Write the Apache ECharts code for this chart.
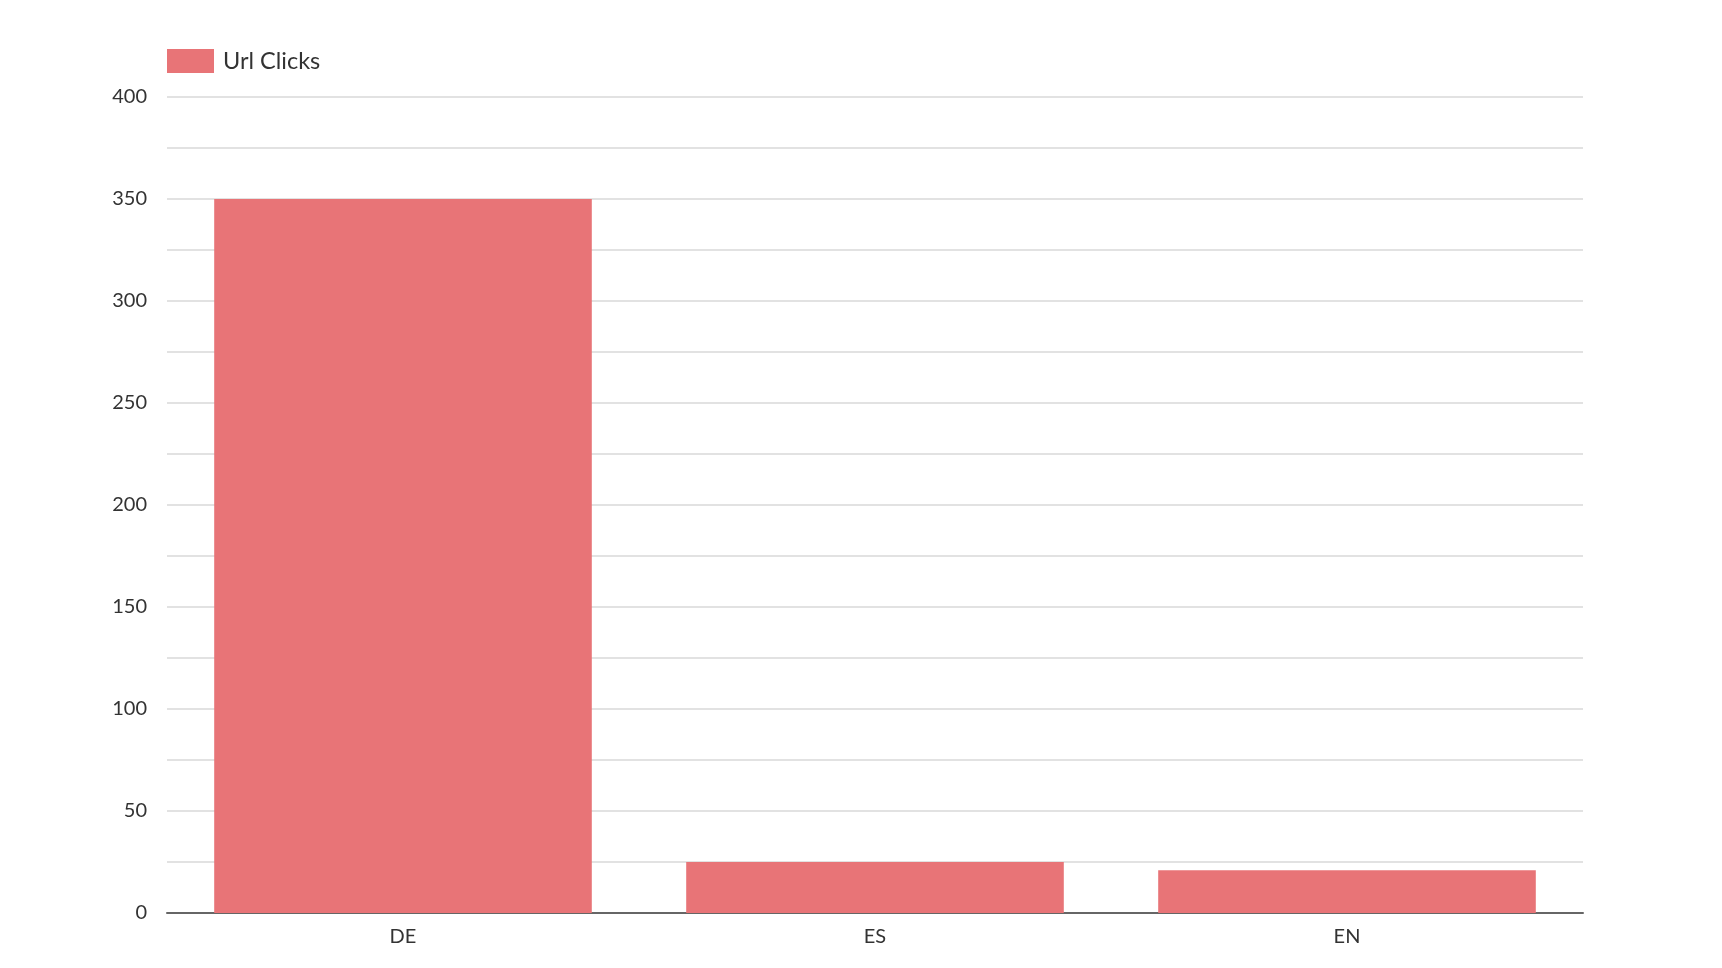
<!DOCTYPE html>
<html>
<head>
<meta charset="utf-8">
<script src="https://cdn.jsdelivr.net/npm/echarts@6/dist/echarts.min.js"></script>
<style>
html,body{margin:0;padding:0;background:#fff;}
#chart{width:1722px;height:968px;}
</style>
</head>
<body>
<div id="chart"></div>
<script>
const categories = ['DE', 'ES', 'EN'];
const urlClicks = [350, 25, 21];
const seriesName = 'Url Clicks';

const chart = echarts.init(document.getElementById('chart'));
chart.setOption({
  backgroundColor: '#ffffff',
  animation: false,
  textStyle: { fontFamily: 'Lato' },
  legend: {
    left: 167,
    top: 49,
    itemWidth: 47,
    itemHeight: 24,
    padding: 0,
    textStyle: { fontSize: 23.5, color: '#333', fontFamily: 'Lato', padding: [0, 0, 0, 4] },
    data: [{ name: seriesName, icon: 'rect' }]
  },
  grid: { left: 167, right: 139, top: 97, bottom: 55, containLabel: false },
  xAxis: {
    type: 'category',
    data: categories,
    axisLine: { lineStyle: { color: '#666', width: 2 } },
    axisTick: { show: false },
    axisLabel: { color: '#333', fontSize: 20, margin: 14, fontFamily: 'Lato' }
  },
  yAxis: {
    type: 'value',
    min: 0,
    max: 400,
    interval: 25,
    axisLine: { show: false },
    axisTick: { show: false },
    axisLabel: {
      color: '#333', fontSize: 20, margin: 20, fontFamily: 'Lato',
      formatter: v => (v % 50 === 0 ? String(v) : '')
    },
    splitLine: { lineStyle: { color: '#e2e2e2', width: 2 } }
  },
  series: [{
    name: seriesName,
    type: 'bar',
    data: urlClicks,
    barCategoryGap: '20%',
    itemStyle: { color: '#e87477' }
  }]
});
</script>
</body>
</html>
